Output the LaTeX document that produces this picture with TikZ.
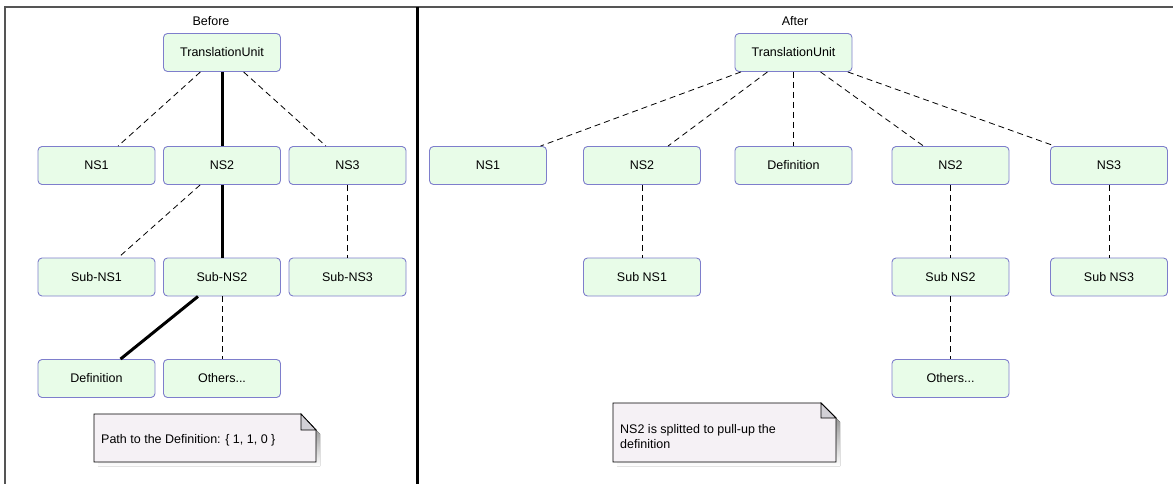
\documentclass[tikz,border=0pt]{standalone}
\usepackage{fontspec}
\setmainfont{Liberation Sans}
\definecolor{boxfill}{HTML}{E8FCE8}
\definecolor{boxline}{HTML}{7E7ECC}
\definecolor{notefill}{HTML}{F5F1F5}
\definecolor{foldfill}{HTML}{D2D0D6}
\definecolor{shade}{HTML}{C4C4C4}
\definecolor{frameline}{HTML}{555555}
\tikzset{
  box/.style={draw=boxline, fill=boxfill, rounded corners=4pt, line width=0.9pt,
    minimum width=117pt, minimum height=38pt, inner sep=0pt},
  link/.style={dashed, dash pattern=on 6pt off 4pt, line width=0.8pt},
  pathlink/.style={line width=3pt},
  notetext/.style={align=left, anchor=west, inner sep=0pt},
}
\begin{document}
\begin{tikzpicture}[x=1pt, y=-1pt, font=\fontsize{12.5}{15}\selectfont]
  \useasboundingbox (0,0) rectangle (1173,484);
  % frames
  \draw[frameline, line width=1.5pt] (5,490) -- (5,7) -- (1180,7);
  \draw[line width=3pt] (417,7) -- (417,490);

  % ---- Before ----
  \node (before) at (211,21) {Before};
  \node[box] (tu) at (222,52.5) {TranslationUnit};
  \node[box] (ns1) at (96.5,165.5) {NS1};
  \node[box] (ns2) at (222,165.5) {NS2};
  \node[box] (ns3) at (347.5,165.5) {NS3};
  \node[box] (sub1) at (96.5,277) {Sub-NS1};
  \node[box] (sub2) at (222,277) {Sub-NS2};
  \node[box] (sub3) at (347.5,277) {Sub-NS3};
  \node[box] (def) at (96.5,378.5) {Definition};
  \node[box] (others) at (222,378.5) {Others...};

  \draw[link] (tu) -- (ns1);
  \draw[link] (tu) -- (ns3);
  \draw[link] (ns2) -- (sub1);
  \draw[link] (ns3) -- (sub3);
  \draw[link] (sub2) -- (others);
  \draw[pathlink] (tu) -- (ns2);
  \draw[pathlink] (ns2) -- (sub2);
  \draw[pathlink] (sub2) -- (def);

  % note
  \fill[shade] (98,418) -- (305,418) -- (320,434) -- (320,466) -- (98,466) -- cycle;
  \draw[fill=notefill, line width=0.8pt] (94,414) -- (301,414) -- (316,430) -- (316,462) -- (94,462) -- cycle;
  \draw[fill=foldfill, line width=0.8pt] (301,414) -- (301,430) -- (316,430) -- cycle;
  \node[notetext] (pathnote) at (101,440) {Path to the Definition: \{ 1, 1, 0 \}};

  % ---- After ----
  \node (after) at (795,21) {After};
  \node[box] (atu) at (793.5,52.5) {TranslationUnit};
  \node[box] (ans1) at (488,165.5) {NS1};
  \node[box] (ans2) at (642,165.5) {NS2};
  \node[box] (adef) at (793.5,165.5) {Definition};
  \node[box] (ans2b) at (950.5,165.5) {NS2};
  \node[box] (ans3) at (1109,165.5) {NS3};
  \node[box] (asub1) at (642,277) {Sub NS1};
  \node[box] (asub2) at (950.5,277) {Sub NS2};
  \node[box] (asub3) at (1109,277) {Sub NS3};
  \node[box] (aothers) at (950.5,378.5) {Others...};

  \foreach \child in {ans1,ans2,adef,ans2b,ans3}
    \draw[link] (atu) -- (\child);
  \draw[link] (ans2) -- (asub1);
  \draw[link] (ans2b) -- (asub2);
  \draw[link] (asub2) -- (aothers);
  \draw[link] (ans3) -- (asub3);

  % note
  \fill[shade] (617,407) -- (825,407) -- (840,422) -- (840,466) -- (617,466) -- cycle;
  \draw[fill=notefill, line width=0.8pt] (613,403) -- (821,403) -- (836,418) -- (836,462) -- (613,462) -- cycle;
  \draw[fill=foldfill, line width=0.8pt] (821,403) -- (821,418) -- (836,418) -- cycle;
  \node[notetext] (splitnote) at (620,437) {NS2 is splitted to pull-up the\\definition};
\end{tikzpicture}
\end{document}
